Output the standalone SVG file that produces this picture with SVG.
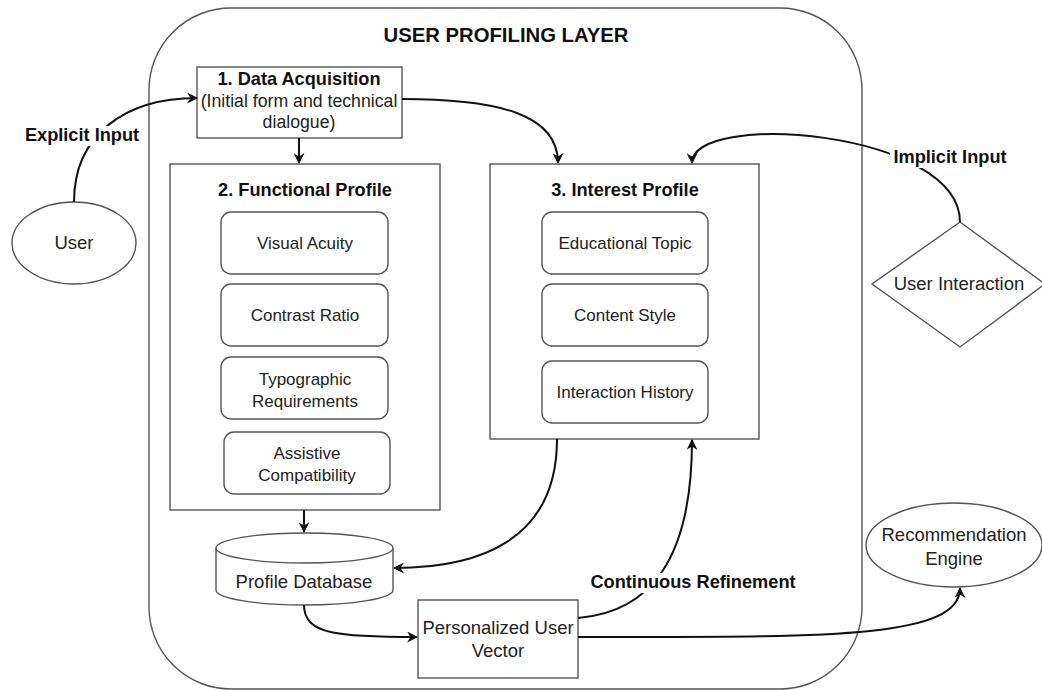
<svg xmlns="http://www.w3.org/2000/svg" width="1042" height="690" viewBox="0 0 1042 690">
<style>
.box{fill:#fff;stroke:#555;stroke-width:1.4}
.inner{fill:#fff;stroke:#555;stroke-width:1.4}
.t{font-family:"Liberation Sans",Arial,sans-serif;font-size:17px;fill:#222;text-anchor:middle}
.o{font-size:18.5px}
.b{font-family:"Liberation Sans",Arial,sans-serif;font-size:18.2px;font-weight:bold;fill:#111;text-anchor:middle}
.conn{fill:none;stroke:#111;stroke-width:2}
.lbl{fill:#fff;stroke:none}
</style>
<defs>
<marker id="ah" viewBox="0 0 10 10" refX="9" refY="5" markerWidth="11" markerHeight="11" markerUnits="userSpaceOnUse" orient="auto">
<path d="M0,0 L10,5 L0,10 L3,5 Z" fill="#111"/>
</marker>
</defs>
<g id="layer">
<rect class="box" x="149" y="8" width="713" height="681" rx="82" ry="82"/>
<text class="b" x="506" y="42" style="font-size:20.3px">USER PROFILING LAYER</text>
</g>
<g id="user">
<ellipse class="box" cx="74" cy="243" rx="62" ry="41"/>
<text class="t o" x="74" y="249">User</text>
</g>
<g id="user-interaction">
<polygon class="box" points="960,222 1045,284 960,347 872,284"/>
<text class="t o" x="959" y="290">User Interaction</text>
</g>
<g id="data-acquisition">
<rect class="box" x="197" y="67" width="205" height="71"/>
<text class="b" x="299" y="85">1. Data Acquisition</text>
<text class="t" x="299" y="107" style="font-size:17.7px">(Initial form and technical</text>
<text class="t" x="299" y="128" style="font-size:17.7px">dialogue)</text>
</g>
<g id="functional-profile">
<rect class="box" x="170" y="164" width="270" height="346"/>
<text class="b" x="305" y="196">2. Functional Profile</text>
</g>
<g id="visual-acuity">
<rect class="inner" x="221" y="212" width="167" height="62" rx="10"/>
<text class="t" x="305" y="249">Visual Acuity</text>
</g>
<g id="contrast-ratio">
<rect class="inner" x="221" y="284" width="167" height="62" rx="10"/>
<text class="t" x="305" y="321">Contrast Ratio</text>
</g>
<g id="typographic">
<rect class="inner" x="221" y="357" width="167" height="62" rx="10"/>
<text class="t" x="305" y="385">Typographic</text>
<text class="t" x="305" y="407">Requirements</text>
</g>
<g id="assistive">
<rect class="inner" x="224" y="432" width="166" height="62" rx="10"/>
<text class="t" x="307" y="459">Assistive</text>
<text class="t" x="307" y="481">Compatibility</text>
</g>
<g id="interest-profile">
<rect class="box" x="490" y="164" width="269" height="275"/>
<text class="b" x="625" y="196">3. Interest Profile</text>
</g>
<g id="educational-topic">
<rect class="inner" x="542" y="212" width="166" height="62" rx="10"/>
<text class="t" x="625" y="249">Educational Topic</text>
</g>
<g id="content-style">
<rect class="inner" x="542" y="284" width="166" height="62" rx="10"/>
<text class="t" x="625" y="321">Content Style</text>
</g>
<g id="interaction-history">
<rect class="inner" x="542" y="361" width="166" height="62" rx="10"/>
<text class="t" x="625" y="398">Interaction History</text>
</g>
<g id="profile-database">
<path class="box" d="M216,548 L216,590 A88.5,15 0 0 0 393,590 L393,548 A88.5,15 0 0 0 216,548 Z"/>
<path fill="none" stroke="#555" stroke-width="1.4" d="M216,548 A88.5,15 0 0 0 393,548"/>
<text class="t o" x="304" y="588">Profile Database</text>
</g>
<g id="personalized-user-vector">
<rect class="box" x="418" y="600" width="160" height="78"/>
<text class="t o" x="498" y="634">Personalized User</text>
<text class="t o" x="498" y="657">Vector</text>
</g>
<g id="recommendation-engine">
<ellipse class="box" cx="954" cy="545" rx="88" ry="42"/>
<text class="t o" x="954" y="541">Recommendation</text>
<text class="t o" x="954" y="565">Engine</text>
</g>
<g id="connectors">
<path class="conn" marker-end="url(#ah)" d="M74,202 C74,135 125,98 197,98"/>
<path class="conn" marker-end="url(#ah)" d="M299,138 L299,163"/>
<path class="conn" marker-end="url(#ah)" d="M402,99 C500,99 558,115 558,163"/>
<path class="conn" marker-end="url(#ah)" d="M960,222 C960,130 692,110 692,163"/>
<path class="conn" marker-end="url(#ah)" d="M304,510 L304,532"/>
<path class="conn" marker-end="url(#ah)" d="M557,439 C557,540 480,568 394,568"/>
<path class="conn" marker-end="url(#ah)" d="M304,605 C304,635 340,637 417,637"/>
<path class="conn" marker-end="url(#ah)" d="M578,618 C650,612 692,560 692,440"/>
<path class="conn" marker-end="url(#ah)" d="M578,637 C820,637 960,640 960,588"/>
<rect class="lbl" x="22" y="126" width="120" height="20"/>
<text class="b" x="82" y="141">Explicit Input</text>
<rect class="lbl" x="890" y="147" width="120" height="21"/>
<text class="b" x="950" y="163">Implicit Input</text>
<rect class="lbl" x="588" y="573" width="211" height="20"/>
<text class="b" x="693" y="588">Continuous Refinement</text>
</g>
</svg>
